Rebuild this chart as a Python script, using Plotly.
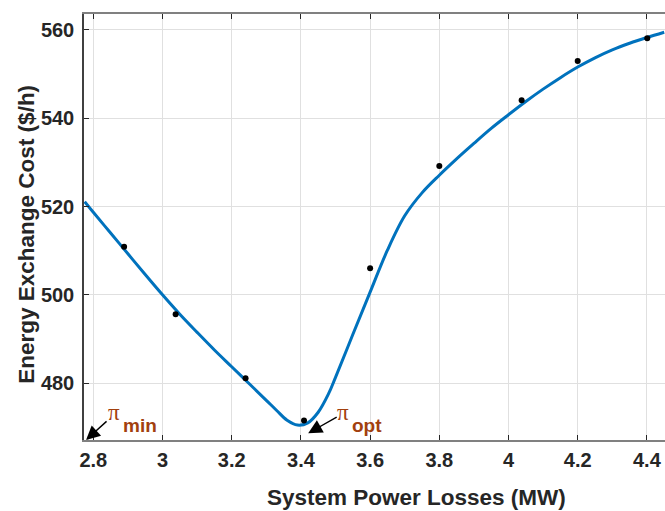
import plotly.graph_objects as go

# Measured data points (black dots)
pts_x = [2.889, 3.038, 3.240, 3.409, 3.600, 3.800, 4.038, 4.200, 4.401]
pts_y = [510.9, 495.6, 481.1, 471.5, 506.0, 529.2, 544.1, 553.0, 558.1]

# Fitted curve
fit_x = [2.775, 2.80, 2.85, 2.90, 2.95, 3.00, 3.05, 3.10, 3.15, 3.20, 3.25, 3.30,
         3.33, 3.36, 3.39, 3.42, 3.45, 3.48, 3.50, 3.55, 3.60, 3.65, 3.70, 3.75,
         3.80, 3.85, 3.90, 3.95, 4.00, 4.05, 4.10, 4.15, 4.20, 4.25, 4.30, 4.35,
         4.40, 4.45]
fit_y = [521.1, 518.7, 514.0, 509.3, 504.6, 500.0, 495.6, 491.5, 487.5, 483.7, 479.9, 476.1,
         473.8, 471.6, 470.5, 471.0, 473.4, 477.6, 481.3, 491.0, 500.6, 510.1, 517.9, 523.1,
         527.1, 530.8, 534.3, 537.7, 540.8, 543.8, 546.6, 549.2, 551.6, 553.7, 555.5, 557.0,
         558.3, 559.5]

x_ticks = [2.8, 3.0, 3.2, 3.4, 3.6, 3.8, 4.0, 4.2, 4.4]
x_tick_text = ["2.8", "3", "3.2", "3.4", "3.6", "3.8", "4", "4.2", "4.4"]
y_ticks = [480, 500, 520, 540, 560]
y_tick_text = ["480", "500", "520", "540", "560"]

FONT = "Liberation Sans, Arial, sans-serif"
DARK = "#262626"
BROWN = "#A2400E"

fig = go.Figure()
fig.add_trace(go.Scatter(x=fit_x, y=fit_y, mode="lines",
                         line=dict(color="#0072BD", width=3, shape="spline", smoothing=1.0),
                         hoverinfo="skip", showlegend=False))
fig.add_trace(go.Scatter(x=pts_x, y=pts_y, mode="markers",
                         marker=dict(color="black", size=6),
                         showlegend=False))

axis_common = dict(showgrid=True, gridcolor="#e0e0e0", gridwidth=1,
                   zeroline=False, ticks="inside", ticklen=5, tickcolor=DARK,
                   tickwidth=1,
                   tickfont=dict(family=FONT, size=20, color=DARK, weight="bold"))

fig.update_layout(
    width=665, height=511,
    margin=dict(l=84, r=0, t=14, b=71),
    paper_bgcolor="white", plot_bgcolor="white",
    xaxis=dict(range=[2.7731, 4.4523], tickvals=x_ticks, ticktext=x_tick_text,
               showline=True, linecolor="#808080", linewidth=1.5, mirror="ticks",
               ticklabelstandoff=1, **axis_common),
    yaxis=dict(range=[467.11, 563.62], tickvals=y_ticks, ticktext=y_tick_text,
               showline=True, linecolor="#404040", linewidth=1.5, mirror=False,
               ticklabelstandoff=4, **axis_common),
)

annos = [
    dict(text="System Power Losses (MW)", xref="paper", yref="paper",
         x=0.5726, y=-0.136, xanchor="center", yanchor="middle", showarrow=False,
         font=dict(family=FONT, size=22.5, color=DARK, weight="bold")),
    dict(text="Energy Exchange Cost ($/h)", xref="paper", yref="paper",
         x=-0.0986, y=0.4836, xanchor="center", yanchor="middle", showarrow=False,
         textangle=-90,
         font=dict(family=FONT, size=22.5, color=DARK, weight="bold")),
    # arrows
    dict(x=2.779, y=467.11, xref="x", yref="y", ax=22, ay=-20, text="",
         showarrow=True, arrowhead=2, arrowsize=2.0, arrowwidth=1.4, arrowcolor="black"),
    dict(x=3.421, y=468.63, xref="x", yref="y", ax=30, ay=-17, text="",
         showarrow=True, arrowhead=2, arrowsize=2.0, arrowwidth=1.4, arrowcolor="black"),
    # labels
    dict(x=2.859, y=473.3, xref="x", yref="y", text="π", showarrow=False,
         xanchor="center", yanchor="middle",
         font=dict(family="Liberation Serif, serif", size=23, color=BROWN)),
    dict(x=2.934, y=470.4, xref="x", yref="y", text="min", showarrow=False,
         xanchor="center", yanchor="middle",
         font=dict(family=FONT, size=19, color=BROWN, weight="bold")),
    dict(x=3.5225, y=473.3, xref="x", yref="y", text="π", showarrow=False,
         xanchor="center", yanchor="middle",
         font=dict(family="Liberation Serif, serif", size=23, color=BROWN)),
    dict(x=3.591, y=470.4, xref="x", yref="y", text="opt", showarrow=False,
         xanchor="center", yanchor="middle",
         font=dict(family=FONT, size=19, color=BROWN, weight="bold")),
]
fig.update_layout(annotations=annos)

fig.write_html("out.html")
